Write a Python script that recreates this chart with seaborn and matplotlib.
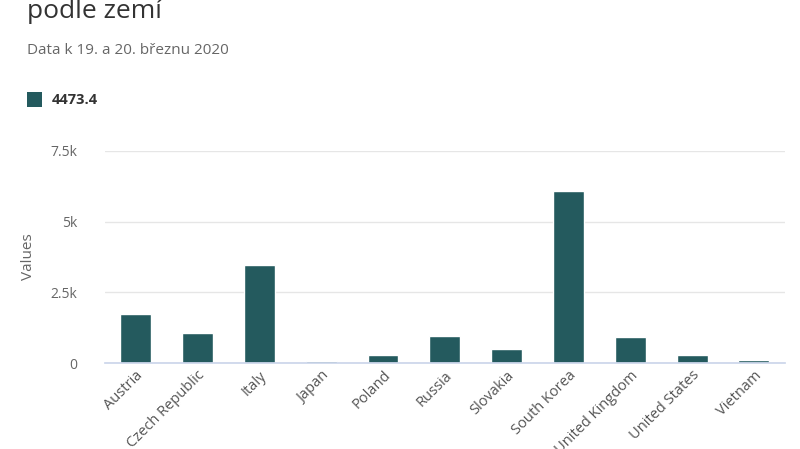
import matplotlib
matplotlib.use("Agg")
import matplotlib.pyplot as plt
import seaborn as sns
import pandas as pd
from matplotlib.ticker import FuncFormatter

countries = ["Austria", "Czech Republic", "Italy", "Japan", "Poland", "Russia",
             "Slovakia", "South Korea", "United Kingdom", "United States", "Vietnam"]
values = [1750, 1060, 3450, 60, 300, 960, 490, 6080, 920, 300, 120]
series_name = "4473.4"
bar_color = "#245a5e"

df = pd.DataFrame({"country": countries, "value": values})

sns.set_theme(style="white")
plt.rcParams["font.family"] = ["Open Sans", "DejaVu Sans"]

fig = plt.figure(figsize=(8, 4.49), dpi=100)
ax = fig.add_axes([0.131, 0.1915, 0.85, 0.4722])

sns.barplot(data=df, x="country", y="value", color=bar_color, width=0.5,
            saturation=1, ax=ax)

ax.set_ylim(0, 7500)
ax.set_yticks([0, 2500, 5000, 7500])
ax.yaxis.set_major_formatter(FuncFormatter(lambda v, p: "0" if v == 0 else f"{v/1000:g}k"))
ax.grid(axis="y", color="#e6e6e6", linewidth=1)
ax.set_axisbelow(True)
for s in ["top", "right", "left"]:
    ax.spines[s].set_visible(False)
ax.spines["bottom"].set_color("#ccd6eb")
ax.tick_params(axis="y", length=0, labelsize=10, labelcolor="#666666", pad=20)
ax.tick_params(axis="x", length=0, labelsize=10.5, labelcolor="#555555")
plt.setp(ax.get_xticklabels(), rotation=45, ha="right", rotation_mode="anchor")
ax.set_xlabel("")
ax.set_ylabel("Values", fontsize=11, color="#666666", labelpad=10)

fig.text(0.034, 0.975, "podle zemí", fontsize=19, color="#333333", va="center")
fig.text(0.034, 0.888, "Data k 19. a 20. březnu 2020", fontsize=11, color="#666666", va="center")
fig.patches.append(plt.Rectangle((0.034, 0.762), 0.018, 0.032, transform=fig.transFigure,
                                 facecolor=bar_color, edgecolor="none"))
fig.text(0.065, 0.778, series_name, fontsize=10.5, color="#333333", fontweight="bold", va="center")

fig.savefig("out.png", dpi=100)
